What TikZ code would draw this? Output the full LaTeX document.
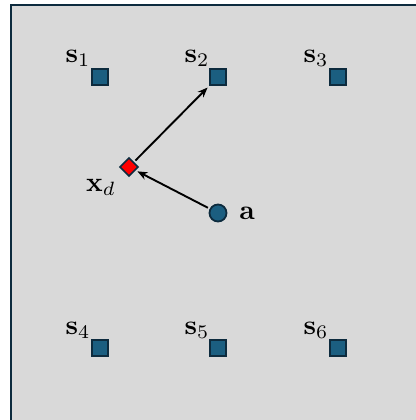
\documentclass[tikz,border=0pt]{standalone}
\usepackage{amsmath}
\usetikzlibrary{shapes.geometric,arrows.meta}
\definecolor{bgc}{HTML}{D9D9D9}
\definecolor{edgec}{HTML}{0D2B3E}
\definecolor{sq}{HTML}{1B5E80}
\begin{document}
\begin{tikzpicture}[x=1pt,y=-1pt,
  sensor/.style={draw=edgec,fill=sq,line width=1.8pt,minimum size=16.5pt,inner sep=0pt,rectangle},
  target/.style={draw=edgec,fill=red,line width=1.6pt,diamond,minimum size=18.5pt,inner sep=0pt},
  agent/.style={draw=edgec,fill=sq,line width=1.8pt,circle,minimum size=17pt,inner sep=0pt},
  lbl/.style={scale=2.75,inner sep=0pt},
  arr/.style={-{Stealth[length=10pt,width=8pt]},line width=1.9pt,shorten >=2pt,shorten <=2pt}]
\useasboundingbox (0,0) rectangle (415,420);
\fill[bgc] (11,5) rectangle (420,425);
\draw[edgec,line width=2.4pt] (11,5) rectangle (420,425);
\node[sensor] (s1) at (100,77) {};
\node[sensor] (s2) at (218,77) {};
\node[sensor] (s3) at (338,77) {};
\node[sensor] (s4) at (100,348) {};
\node[sensor] (s5) at (218,348) {};
\node[sensor] (s6) at (338,348) {};
\node[lbl] (l1) at (78,58) {$\mathbf{s}_1$};
\node[lbl] (l2) at (197,58) {$\mathbf{s}_2$};
\node[lbl] (l3) at (316,58) {$\mathbf{s}_3$};
\node[lbl] (l4) at (78,330) {$\mathbf{s}_4$};
\node[lbl] (l5) at (197,330) {$\mathbf{s}_5$};
\node[lbl] (l6) at (316,330) {$\mathbf{s}_6$};
\node[target] (xd) at (129,167) {};
\node[lbl] (lxd) at (101,187) {$\mathbf{x}_d$};
\node[agent] (a) at (218,213) {};
\node[lbl] (la) at (247,213) {$\mathbf{a}$};
\draw[arr] (xd) -- (s2);
\draw[arr] (a) -- (xd);
\end{tikzpicture}
\end{document}
